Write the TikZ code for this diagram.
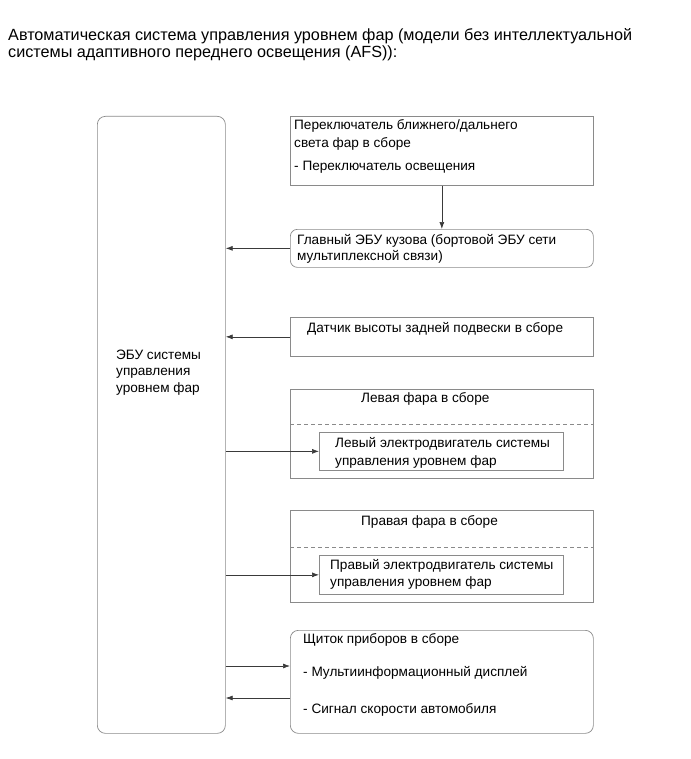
\documentclass[tikz,border=0pt]{standalone}
\usepackage{fontspec}
\setmainfont{Liberation Sans}
\usetikzlibrary{arrows.meta,positioning}

\definecolor{Frame}{HTML}{8A8A8A}
\definecolor{Wire}{HTML}{3A3A3A}

\begin{document}
\begin{tikzpicture}[x=1pt, y=1pt, font=\fontsize{13.6}{16}\selectfont,
  box/.style={draw=Frame, line width=0.7pt, inner sep=0pt, anchor=north west},
  txt/.style={inner sep=0pt, anchor=base west},
  wire/.style={draw=Wire, line width=0.7pt, -{Latex[length=7pt,width=5pt]}}]

 \useasboundingbox (0,0) rectangle (690,-759);

 %%%%%%%%%% Title %%%%%%%%%%
 \node[txt, font=\fontsize{16.2}{18}\selectfont] (title1) at (8,-41) {Автоматическая система управления уровнем фар (модели без интеллектуальной};
 \node[txt, font=\fontsize{16.2}{18}\selectfont] (title2) at (8,-58) {системы адаптивного переднего освещения (AFS)):};

 %%%%%%%%%% Boxes %%%%%%%%%%
 \node[box, rounded corners=8pt, minimum width=128, minimum height=617] (ecu) at (97,-116) {};
 \node[box, minimum width=303, minimum height=69] (sw) at (290,-116) {};
 \node[box, rounded corners=7pt, minimum width=303, minimum height=38] (body) at (290,-229) {};
 \node[box, minimum width=303, minimum height=39] (sensor) at (290,-317) {};
 \node[box, minimum width=303, minimum height=89] (lhl) at (290,-389) {};
 \node[box, minimum width=244, minimum height=38] (lmot) at (319,-432) {};
 \node[box, minimum width=303, minimum height=92] (rhl) at (290,-510) {};
 \node[box, minimum width=244, minimum height=39] (rmot) at (319,-555) {};
 \node[box, rounded corners=8pt, minimum width=303, minimum height=103] (cluster) at (290,-630) {};

 % Separators in the headlamps
 \draw [draw=Frame, line width=0.7pt, dash pattern=on 4pt off 3pt] ([yshift=-35]lhl.north west) -- ([yshift=-35]lhl.north east) ;
 \draw [draw=Frame, line width=0.7pt, dash pattern=on 4pt off 3pt] ([yshift=-37]rhl.north west) -- ([yshift=-37]rhl.north east) ;

 %%%%%%%%%% Texts %%%%%%%%%%
 \node[txt] (ecu1) at (116,-359) {ЭБУ системы};
 \node[txt] (ecu2) at (116,-375.5) {управления};
 \node[txt] (ecu3) at (116,-392) {уровнем фар};

 \node[txt] (sw1) at (294,-130) {Переключатель ближнего/дальнего};
 \node[txt] (sw2) at (294,-148) {света фар в сборе};
 \node[txt] (sw3) at (294,-171) {- Переключатель освещения};

 \node[txt] (body1) at (297,-244) {Главный ЭБУ кузова (бортовой ЭБУ сети};
 \node[txt] (body2) at (297,-260) {мультиплексной связи)};

 \node[txt] (sensor1) at (307,-332) {Датчик высоты задней подвески в сборе};

 \node[txt] (lhl1) at (361,-402) {Левая фара в сборе};
 \node[txt] (lmot1) at (335,-447) {Левый электродвигатель системы};
 \node[txt] (lmot2) at (335,-465) {управления уровнем фар};

 \node[txt] (rhl1) at (361,-525) {Правая фара в сборе};
 \node[txt] (rmot1) at (330,-569) {Правый электродвигатель системы};
 \node[txt] (rmot2) at (330,-586) {управления уровнем фар};

 \node[txt] (cl1) at (303,-643) {Щиток приборов в сборе};
 \node[txt] (cl2) at (303,-676) {- Мультиинформационный дисплей};
 \node[txt] (cl3) at (303,-713) {- Сигнал скорости автомобиля};

 %%%%%%%%%% Connections %%%%%%%%%%
 \coordinate (clout) at (290,-666) ;
 \coordinate (clin) at (290,-698) ;

 \draw [wire] (sw.south) -- (body.north) ;
 \draw [wire] (body.west) -- (body.west -| ecu.east) ;
 \draw [wire] (sensor.west) -- (sensor.west -| ecu.east) ;
 \draw [wire] (lmot.west -| ecu.east) -- (lmot.west) ;
 \draw [wire] (rmot.west -| ecu.east) -- (rmot.west) ;
 \draw [wire] (clout -| ecu.east) -- (clout) ;
 \draw [wire] (clin) -- (clin -| ecu.east) ;

\end{tikzpicture}
\end{document}
